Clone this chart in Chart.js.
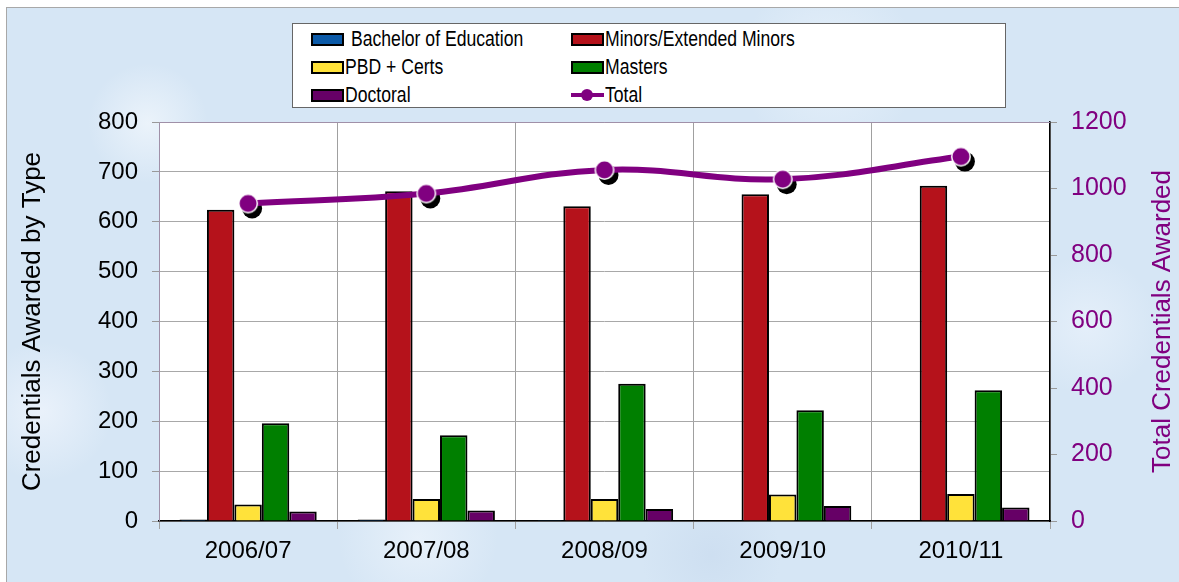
<!DOCTYPE html>
<html>
<head>
<meta charset="utf-8">
<script src="https://cdn.jsdelivr.net/npm/chart.js@4/dist/chart.umd.min.js"></script>
<style>
  html, body { margin: 0; padding: 0; background: #fff; }
  #wrap { position: relative; width: 1179px; height: 582px; overflow: hidden; }
  #bg {
    position: absolute; left: 6px; top: 7px; right: -2px; bottom: -2px;
    border-left: 1px solid #a8a8a8; border-top: 1px solid #a8a8a8;
    background-color: #d6e6f5;
    background-image:
      radial-gradient(circle at 12% 20%, rgba(240,246,252,0.8) 0, rgba(240,246,252,0) 60px),
      radial-gradient(circle at 35% 92%, rgba(235,243,251,0.8) 0, rgba(235,243,251,0) 80px),
      radial-gradient(circle at 70% 10%, rgba(236,244,252,0.7) 0, rgba(236,244,252,0) 90px),
      radial-gradient(circle at 92% 55%, rgba(232,241,251,0.8) 0, rgba(232,241,251,0) 70px),
      radial-gradient(circle at 3% 70%, rgba(238,244,252,0.8) 0, rgba(238,244,252,0) 70px),
      radial-gradient(circle at 60% 95%, rgba(200,218,238,0.6) 0, rgba(200,218,238,0) 70px);
  }
  canvas { position: absolute; left: 0; top: 0; }
  #legend {
    position: absolute; left: 292px; top: 23px; width: 712px; height: 83px;
    background: #fff; border: 1px solid #666;
    font-family: "Liberation Sans", Arial, sans-serif; font-size: 22px; color: #000;
  }
  .item { position: absolute; height: 28px; display: flex; align-items: center; }
  .sw { width: 29px; height: 9px; border: 2px solid #000; }
  .tl { position: relative; width: 33px; height: 12px; }
  .tl .ln { position: absolute; left: 0; right: 0; top: 4px; height: 4px; }
  .tl .dt { position: absolute; left: 10px; top: 0; width: 12px; height: 12px; border-radius: 50%; }
  .lab { display: inline-block; transform: scaleX(0.8); transform-origin: left center; white-space: nowrap; margin-left: 1px; }
</style>
</head>
<body>
<div id="wrap">
  <div id="bg"></div>
  <canvas id="chart" width="1179" height="582"></canvas>
  <div id="legend"></div>
</div>
<script>
const years = ['2006/07', '2007/08', '2008/09', '2009/10', '2010/11'];
const bachelor = [3, 3, 2, 0, 0];
const minors = [624, 661, 631, 655, 672];
const pbd = [33, 44, 44, 53, 54];
const masters = [196, 172, 275, 222, 262];
const doctoral = [19, 21, 24, 30, 27];
const total = [955, 985, 1056, 1028, 1096];

const PURPLE = '#800080';
const FONT = '"Liberation Sans", Arial, sans-serif';
const RIGHT_TITLE = 'Total Credentials Awarded';

// marker with white rim
const dot = document.createElement('canvas');
dot.width = 24; dot.height = 24;
(function () {
  const c = dot.getContext('2d');
  c.beginPath(); c.arc(12, 12, 10, 0, Math.PI * 2);
  c.fillStyle = '#fff'; c.fill();
  c.beginPath(); c.arc(12, 12, 8.5, 0, Math.PI * 2);
  c.fillStyle = PURPLE; c.fill();
})();

const plotBg = {
  id: 'plotBg',
  beforeDraw(chart) {
    const { ctx, chartArea: a } = chart;
    ctx.save();
    ctx.fillStyle = '#fff';
    ctx.fillRect(a.left, a.top, a.right - a.left, a.bottom - a.top);
    ctx.restore();
  },
  afterDatasetsDraw(chart) {
    const { ctx, chartArea: a } = chart;
    ctx.save();
    ctx.strokeStyle = '#a090a8';
    ctx.lineWidth = 1;
    ctx.beginPath();
    ctx.moveTo(a.left + 0.5, a.bottom);
    ctx.lineTo(a.left + 0.5, a.top + 0.5);
    ctx.lineTo(a.right, a.top + 0.5);
    ctx.stroke();
    ctx.restore();
  },
  beforeDatasetDraw(chart, args) {
    if (chart.data.datasets[args.index].type !== 'line') return;
    const { ctx } = chart;
    ctx.save();
    ctx.fillStyle = '#000';
    args.meta.data.forEach((p) => {
      ctx.beginPath();
      ctx.arc(p.x + 4, p.y + 5, 10, 0, Math.PI * 2);
      ctx.fill();
    });
    ctx.restore();
  },
  afterDraw(chart) {
    // right axis title reads bottom-to-top like the left one
    const s = chart.scales.y1;
    const { ctx } = chart;
    ctx.save();
    ctx.translate(s.right - 16, (s.top + s.bottom) / 2);
    ctx.rotate(-Math.PI / 2);
    ctx.font = '26px ' + FONT;
    ctx.fillStyle = PURPLE;
    ctx.textAlign = 'center';
    ctx.textBaseline = 'middle';
    ctx.fillText(RIGHT_TITLE, 0, 0);
    ctx.restore();
  },
};

function bar(label, data, color) {
  return {
    label, data,
    backgroundColor: color,
    borderColor: '#000',
    borderWidth: 2,
    categoryPercentage: 0.77,
    barPercentage: 1,
    yAxisID: 'y',
    order: 2,
  };
}

const chart = new Chart(document.getElementById('chart'), {
  type: 'bar',
  data: {
    labels: years,
    datasets: [
      bar('Bachelor of Education', bachelor, '#0b5aa8'),
      bar('Minors/Extended Minors', minors, '#b5121b'),
      bar('PBD + Certs', pbd, '#ffe23a'),
      bar('Masters', masters, '#007f00'),
      bar('Doctoral', doctoral, '#660066'),
      {
        type: 'line',
        label: 'Total',
        data: total,
        yAxisID: 'y1',
        borderColor: PURPLE,
        borderWidth: 6,
        tension: 0.4,
        pointStyle: dot,
        order: 1,
      },
    ],
  },
  options: {
    responsive: false,
    animation: false,
    layout: { padding: { left: 6, top: 122, right: 0, bottom: 0 } },
    plugins: { legend: { display: false }, tooltip: { enabled: false } },
    scales: {
      x: {
        grid: { color: '#a0a0a0', lineWidth: 1, tickLength: 8, tickColor: '#a0a0a0' },
        border: { color: '#000', width: 1.5 },
        ticks: { color: '#000', font: { family: FONT, size: 24 }, padding: 8 },
        afterFit: (s) => { s.height = 61; },
      },
      y: {
        position: 'left',
        min: 0, max: 800,
        ticks: { stepSize: 100, color: '#000', font: { family: FONT, size: 24 }, padding: 14 },
        grid: { color: '#a8a8a8', borderDash: [2, 2], tickLength: 7, tickColor: '#999' },
        border: { display: false },
        title: {
          display: true, text: 'Credentials Awarded by Type', color: '#000',
          font: { family: FONT, size: 26 }, padding: { top: 11, bottom: 0 },
        },
        afterFit: (s) => { s.width = 153; },
      },
      y1: {
        position: 'right',
        min: 0, max: 1200,
        ticks: {
          stepSize: 200, color: PURPLE, font: { family: FONT, size: 25 }, padding: 14,
          callback: (v) => String(v),
        },
        grid: { drawOnChartArea: false, tickLength: 7, tickColor: '#999' },
        border: { color: '#000', width: 1.5 },
        afterFit: (s) => { s.width = 129; },
      },
    },
  },
  plugins: [plotBg],
});

// legend box built from the chart datasets, two columns, row-major
const legend = document.getElementById('legend');
chart.data.datasets.forEach((ds, i) => {
  const el = document.createElement('div');
  el.className = 'item';
  el.style.left = (i % 2 === 0 ? 18 : 278) + 'px';
  el.style.top = (1 + Math.floor(i / 2) * 28) + 'px';
  let mark;
  if (ds.type === 'line') {
    mark = document.createElement('div');
    mark.className = 'tl';
    mark.innerHTML = '<div class="ln"></div><div class="dt"></div>';
    mark.firstChild.style.background = ds.borderColor;
    mark.lastChild.style.background = ds.borderColor;
  } else {
    mark = document.createElement('div');
    mark.className = 'sw';
    mark.style.background = ds.backgroundColor;
  }
  const lab = document.createElement('span');
  lab.className = 'lab';
  lab.textContent = ds.label;
  if (i === 0) lab.style.marginLeft = '7px';
  el.appendChild(mark);
  el.appendChild(lab);
  legend.appendChild(el);
});
</script>
</body>
</html>
